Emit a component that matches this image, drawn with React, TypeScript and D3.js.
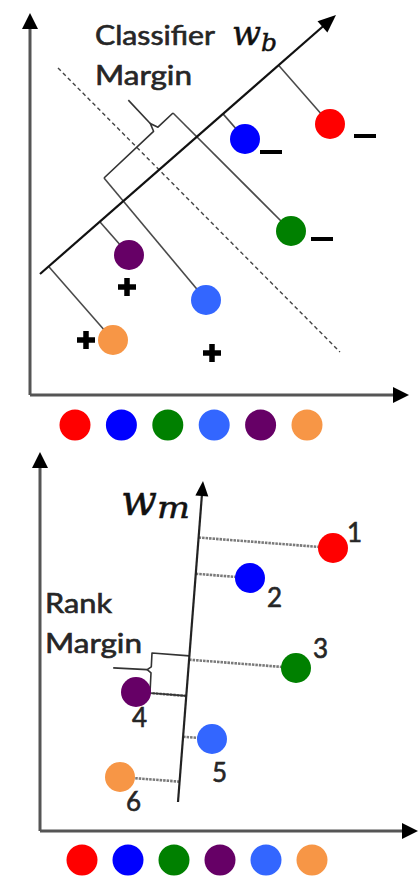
import React from 'react'
import * as d3 from 'd3'

type Pt = [number, number]

const W = 418
const H = 878

const palette: Record<string, string> = {
  red: '#ff0000',
  blue: '#0000ff',
  green: '#008000',
  lightblue: '#3366ff',
  purple: '#660066',
  orange: '#f79646',
}

// ---- top panel (classifier view), units measured from the axis origin ----
const topIds = ['red', 'blue', 'green', 'lightblue', 'purple', 'orange']
const topX = [300, 215, 261, 176, 99, 83]
const topY = [271, 256, 164, 95, 140, 55]
const signs = ['-', '-', '-', '+', '+', '+']
const signX = [335, 241, 292, 182, 97, 56]
const signY = [259, 243, 156, 42, 108, 55]
const wbStart: Pt = [10, 121]
const wbEnd: Pt = [306, 380]
const boundaryStart: Pt = [28, 327]
const boundaryEnd: Pt = [310, 43]
const topBraceA: Pt = [143, 282] // where the green margin line meets the brace
const topBraceB: Pt = [74, 217] // where the light blue margin line meets the brace
const topLegend = ['red', 'blue', 'green', 'lightblue', 'purple', 'orange']

// ---- bottom panel (ranking view) ----
const botIds = ['red', 'blue', 'green', 'purple', 'lightblue', 'orange']
const botX = [293, 210, 256, 96, 172, 80]
const botY = [283, 253, 163, 139, 92, 54]
const ranks = ['1', '2', '3', '4', '5', '6']
const rankX = [307, 227, 273, 92, 172, 86]
const rankY = [289, 224, 173, 104, 49, 20]
const wmStart: Pt = [138, 29]
const wmEnd: Pt = [163, 350]
const botBraceA: Pt = [112, 178]
const botBraceB: Pt = [110, 138]
const botLegend = ['red', 'blue', 'green', 'purple', 'lightblue', 'orange']

const xTop = d3.scaleLinear().domain([0, 380]).range([30, 410])
const yTop = d3.scaleLinear().domain([0, 380]).range([395, 15])
const xBot = d3.scaleLinear().domain([0, 380]).range([40, 420])
const yBot = d3.scaleLinear().domain([0, 380]).range([831, 451])
const legTop = d3.scalePoint<string>().domain(topLegend).range([75, 307])
const legBot = d3.scalePoint<string>().domain(botLegend).range([82, 312])

const line = d3.line<Pt>()

function foot(p: Pt, a: Pt, b: Pt): Pt {
  const dx = b[0] - a[0], dy = b[1] - a[1]
  const t = ((p[0] - a[0]) * dx + (p[1] - a[1]) * dy) / (dx * dx + dy * dy)
  return [a[0] + t * dx, a[1] + t * dy]
}

function arrow(from: Pt, tip: Pt, len: number, half: number) {
  const dx = tip[0] - from[0], dy = tip[1] - from[1]
  const L = Math.hypot(dx, dy)
  const ux = dx / L, uy = dy / L
  const bx = tip[0] - ux * len, by = tip[1] - uy * len
  const head = `${tip[0]},${tip[1]} ${bx - uy * half},${by + ux * half} ${bx + uy * half},${by - ux * half}`
  const end: Pt = [tip[0] - ux * len * 0.7, tip[1] - uy * len * 0.7]
  return { head, end }
}

function brace(A: Pt, B: Pt, frac: number, depth: number, pointer: number) {
  const dx = B[0] - A[0], dy = B[1] - A[1]
  const L = Math.hypot(dx, dy)
  const s: Pt = [dx / L, dy / L]
  const n: Pt = [-s[1], s[0]]
  const P: Pt = [A[0] + s[0] * L * frac, A[1] + s[1] * L * frac]
  const tip: Pt = [P[0] + n[0] * depth, P[1] + n[1] * depth]
  const body: Pt[] = [A, [P[0] - s[0] * 3, P[1] - s[1] * 3], tip, [P[0] + s[0] * 3, P[1] + s[1] * 3], B]
  const ptr: Pt[] = [tip, [tip[0] + n[0] * pointer, tip[1] + n[1] * pointer]]
  return { body, ptr }
}

const Axis: React.FC<{ origin: Pt; xTip: Pt; yTip: Pt }> = ({ origin, xTip, yTip }) => {
  const ax = arrow(origin, xTip, 16, 8)
  const ay = arrow(origin, yTip, 16, 8)
  return (
    <g>
      <path d={line([origin, ax.end]) || ''} stroke="#555" strokeWidth={3} fill="none" />
      <path d={line([origin, ay.end]) || ''} stroke="#555" strokeWidth={3} fill="none" />
      <polygon points={ax.head} fill="#000" />
      <polygon points={ay.head} fill="#000" />
    </g>
  )
}

export default function App() {
  // top panel geometry
  const tp = topIds.map((id, i) => ({ id, p: [xTop(topX[i]), yTop(topY[i])] as Pt }))
  const wbA: Pt = [xTop(wbStart[0]), yTop(wbStart[1])]
  const wbB: Pt = [xTop(wbEnd[0]), yTop(wbEnd[1])]
  const wbArrow = arrow(wbA, wbB, 18, 7.5)
  const tA: Pt = [xTop(topBraceA[0]), yTop(topBraceA[1])]
  const tB: Pt = [xTop(topBraceB[0]), yTop(topBraceB[1])]
  const tBrace = brace(tA, tB, 0.25, 8, 32)
  const topProj = tp.map(d => {
    if (d.id === 'green') return [tA, d.p] as Pt[]
    if (d.id === 'lightblue') return [tB, d.p] as Pt[]
    return [foot(d.p, wbA, wbB), d.p] as Pt[]
  })

  // bottom panel geometry
  const bp = botIds.map((id, i) => ({ id, p: [xBot(botX[i]), yBot(botY[i])] as Pt }))
  const wmA: Pt = [xBot(wmStart[0]), yBot(wmStart[1])]
  const wmB: Pt = [xBot(wmEnd[0]), yBot(wmEnd[1])]
  const wmArrow = arrow(wmA, wmB, 15, 6.5)
  const bA: Pt = [xBot(botBraceA[0]), yBot(botBraceA[1])]
  const bB: Pt = [xBot(botBraceB[0]), yBot(botBraceB[1])]
  const bBrace = brace(bA, bB, 0.42, 4, 34)
  const purple = bp.find(d => d.id === 'purple')!.p

  const textStyle = { fontFamily: 'Lato, "Open Sans", sans-serif', fill: '#262626', stroke: '#262626', strokeWidth: 0.6 }
  const mathStyle = { fontFamily: '"DejaVu Serif", serif', fontStyle: 'italic', fill: '#111', stroke: '#111', strokeWidth: 0.5 }

  return (
    <svg width={W} height={H} style={{ position: 'absolute', left: 0, top: 0, display: 'block', background: '#fff' }}>
      {/* ---------- top ---------- */}
      <Axis origin={[xTop(0), yTop(0)]} xTip={[xTop(379), yTop(0)]} yTip={[xTop(0), yTop(382)]} />
      <path
        d={line([[xTop(boundaryStart[0]), yTop(boundaryStart[1])], [xTop(boundaryEnd[0]), yTop(boundaryEnd[1])]]) || ''}
        stroke="#444" strokeWidth={1.4} strokeDasharray="4 3" fill="none"
      />
      {topProj.map((seg, i) => (
        <path key={i} d={line(seg) || ''} stroke="#4a4a4a" strokeWidth={1.6} fill="none" />
      ))}
      <path d={line(tBrace.body) || ''} stroke="#333" strokeWidth={1.6} fill="none" strokeLinejoin="round" />
      <path d={line(tBrace.ptr) || ''} stroke="#333" strokeWidth={1.6} fill="none" />
      <path d={line([wbA, wbArrow.end]) || ''} stroke="#111" strokeWidth={2.2} fill="none" />
      <polygon points={wbArrow.head} fill="#000" />
      {tp.map(d => (
        <circle key={d.id} cx={d.p[0]} cy={d.p[1]} r={15} fill={palette[d.id]} />
      ))}
      {signs.map((s, i) => {
        const cx = xTop(signX[i]), cy = yTop(signY[i])
        return s === '-' ? (
          <path key={i} d={line([[cx - 11, cy], [cx + 11, cy]]) || ''} stroke="#000" strokeWidth={4} />
        ) : (
          <g key={i}>
            <path d={line([[cx - 9, cy], [cx + 9, cy]]) || ''} stroke="#000" strokeWidth={5.5} />
            <path d={line([[cx, cy - 9], [cx, cy + 9]]) || ''} stroke="#000" strokeWidth={5.5} />
          </g>
        )
      })}
      <text x={xTop(65)} y={yTop(350)} fontSize={26} textLength={120} lengthAdjust="spacingAndGlyphs" style={textStyle}>Classifier</text>
      <text x={xTop(65)} y={yTop(310)} fontSize={26} textLength={97} lengthAdjust="spacingAndGlyphs" style={textStyle}>Margin</text>
      <text x={xTop(202)} y={yTop(350)} style={mathStyle}>
        <tspan fontSize={34}>w</tspan>
        <tspan fontSize={25} dy={6}>b</tspan>
      </text>
      {topLegend.map(id => (
        <circle key={id} cx={legTop(id)} cy={yTop(-30)} r={15.5} fill={palette[id]} />
      ))}

      {/* ---------- bottom ---------- */}
      <Axis origin={[xBot(0), yBot(0)]} xTip={[xBot(378), yBot(0)]} yTip={[xBot(0), yBot(379)]} />
      {bp.map(d => (
        <path key={d.id} d={line([foot(d.p, wmA, wmB), d.p]) || ''} stroke="#7a7a7a" strokeWidth={2.6} strokeDasharray="2.5 1" fill="none" />
      ))}
      <path d={line([foot(bA, wmA, wmB), ...bBrace.body, foot(purple, wmA, wmB)]) || ''} stroke="#333" strokeWidth={1.6} fill="none" strokeLinejoin="round" />
      <path d={line(bBrace.ptr) || ''} stroke="#333" strokeWidth={1.6} fill="none" />
      <path d={line([wmA, wmArrow.end]) || ''} stroke="#222" strokeWidth={2.2} fill="none" />
      <polygon points={wmArrow.head} fill="#000" />
      {bp.map(d => (
        <circle key={d.id} cx={d.p[0]} cy={d.p[1]} r={15} fill={palette[d.id]} />
      ))}
      {ranks.map((r, i) => (
        <text key={r} x={xBot(rankX[i])} y={yBot(rankY[i])} fontSize={26} style={textStyle}>{r}</text>
      ))}
      <text x={xBot(5)} y={yBot(218)} fontSize={26} textLength={67} lengthAdjust="spacingAndGlyphs" style={textStyle}>Rank</text>
      <text x={xBot(5)} y={yBot(178)} fontSize={26} textLength={97} lengthAdjust="spacingAndGlyphs" style={textStyle}>Margin</text>
      <text x={xBot(81)} y={yBot(316)} style={mathStyle}>
        <tspan fontSize={42}>w</tspan>
        <tspan fontSize={30} dy={3} textLength={33} lengthAdjust="spacingAndGlyphs">m</tspan>
      </text>
      {botLegend.map(id => (
        <circle key={id} cx={legBot(id)} cy={yBot(-29)} r={15.5} fill={palette[id]} />
      ))}
    </svg>
  )
}
